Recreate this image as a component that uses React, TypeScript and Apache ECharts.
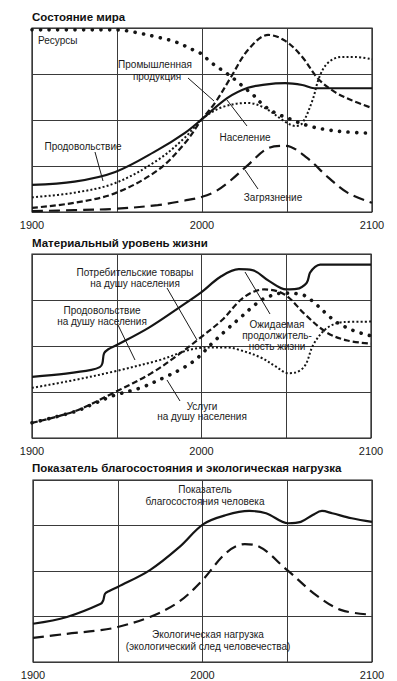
import React, { useEffect, useRef } from "react";
import * as echarts from "echarts";

// ---- Panel 1: Состояние мира ----
const resources = [[1900,3.96],[1950,3.96],[1960,3.91],[1975,3.79],[1985,3.69],[1995,3.52],[2000,3.43],[2005,3.26],[2010,3.13],[2015,3.0],[2020,2.86],[2025,2.7],[2030,2.55],[2035,2.36],[2040,2.22],[2045,2.12],[2050,2.05],[2055,1.97],[2065,1.85],[2075,1.78],[2085,1.74],[2100,1.71]];
const population = [[1900,0.59],[1925,0.66],[1949,0.87],[1974,1.35],[1990,1.72],[2000,2.02],[2015,2.48],[2027,2.7],[2037,2.77],[2049,2.8],[2059,2.76],[2066,2.69],[2080,2.69],[2100,2.69]];
const industry = [[1900,0.09],[1925,0.2],[1949,0.41],[1974,0.91],[1990,1.5],[2000,2.02],[2008,2.39],[2017,2.93],[2027,3.52],[2039,3.85],[2049,3.72],[2059,3.37],[2068,2.91],[2078,2.61],[2088,2.43],[2100,2.26]];
const food = [[1900,0.32],[1925,0.42],[1949,0.63],[1974,1.13],[1990,1.62],[2000,2.02],[2012,2.28],[2027,2.37],[2037,2.26],[2049,1.96],[2055,1.87],[2059,1.93],[2065,2.43],[2069,2.93],[2074,3.24],[2082,3.37],[2090,3.37],[2100,3.32]];
const pollution = [[1900,0.02],[1925,0.04],[1949,0.07],[1974,0.15],[1990,0.25],[2000,0.33],[2008,0.45],[2015,0.63],[2027,1.02],[2039,1.39],[2049,1.44],[2061,1.2],[2074,0.76],[2086,0.41],[2100,0.2]];

// ---- Panel 2: Материальный уровень жизни ----
const lifeExpectancy = [[1900,1.33],[1920,1.4],[1935,1.48],[1940,1.54],[1941.5,1.62],[1942.5,1.84],[1945,1.93],[1950,2.02],[1969,2.4],[1987,2.84],[2000,3.17],[2011,3.5],[2022,3.67],[2030,3.65],[2040,3.41],[2050,3.23],[2056,3.24],[2062,3.37],[2064,3.59],[2067,3.72],[2070,3.77],[2100,3.77]];
const consumerGoods = [[1900,0.33],[1925,0.58],[1948,0.98],[1970,1.4],[1986,1.8],[2000,2.2],[2012,2.56],[2025,3.06],[2037,3.23],[2049,3.12],[2061,2.69],[2074,2.29],[2086,2.12],[2100,2.05]];
const foodPerCapita = [[1900,1.09],[1925,1.26],[1950,1.46],[1974,1.68],[2000,1.96],[2015,1.97],[2022,1.92],[2035,1.75],[2044,1.55],[2051,1.41],[2055,1.42],[2061,1.57],[2066,2.03],[2074,2.39],[2084,2.52],[2100,2.53]];
const services = [[1900,0.33],[1925,0.57],[1935,0.72],[1948,0.92],[1964,1.09],[1980,1.35],[1988,1.5],[1995,1.66],[2000,1.82],[2006,2.05],[2015,2.36],[2023,2.62],[2032,2.91],[2038,3.05],[2048,3.15],[2059,3.12],[2065,2.99],[2074,2.69],[2080,2.51],[2090,2.33],[2100,2.22]];

// ---- Panel 3: Показатель благосостояния и экологическая нагрузка ----
const welfare = [[1900,0.84],[1920,0.99],[1940,1.28],[1941.5,1.36],[1942.5,1.5],[1945,1.56],[1950,1.65],[1969,2.02],[1986.5,2.53],[2000.5,3.03],[2014,3.23],[2027.5,3.32],[2037.5,3.27],[2050.5,3.05],[2058,3.08],[2065,3.23],[2070.5,3.32],[2076.5,3.27],[2088,3.16],[2100,3.08]];
const footprint = [[1900,0.53],[1920,0.62],[1940,0.7],[1950,0.77],[1969,0.99],[1986,1.32],[2000,1.8],[2014,2.4],[2025,2.59],[2031,2.57],[2050,2.02],[2067,1.47],[2082,1.14],[2100,1.04]];

const xTickLabels = ["1900", "2000", "2100"];
const panelTitles = ["Состояние мира", "Материальный уровень жизни", "Показатель благосостояния и экологическая нагрузка"];

const FONT = '"Liberation Sans", Arial, sans-serif';
const INK = "#151515";

const STYLES: Record<string, any> = {
  solid: { width: 2.2, type: "solid" },
  smallDots: { width: 2, type: [2, 2.2] },
  dash: { width: 2.2, type: [6, 3] },
  bigDots: { width: 3.6, type: [0.1, 8.5], cap: "round" },
  longDash: { width: 2.2, type: [11, 6] },
};

function mkSeries(name: string, data: number[][], idx: number, style: string) {
  return {
    name,
    type: "line",
    xAxisIndex: idx,
    yAxisIndex: idx,
    data,
    smooth: 0.35,
    symbol: "none",
    showSymbol: false,
    lineStyle: { color: INK, ...STYLES[style] },
    z: 3,
  };
}

function txt(text: string, x: number, y: number, opts: any = {}) {
  return {
    type: "text",
    x,
    y,
    z: 10,
    style: {
      text,
      fill: opts.fill || "#1a1a1a",
      font: opts.font || `10px ${FONT}`,
      textAlign: opts.align || "center",
      align: opts.align || "center",
      textVerticalAlign: "middle",
      verticalAlign: "middle",
    },
  };
}

function arrow(x1: number, y1: number, x2: number, y2: number) {
  return {
    type: "line",
    z: 10,
    shape: { x1, y1, x2, y2 },
    style: { stroke: "#1a1a1a", lineWidth: 1 },
  };
}

export default function App() {
  const ref = useRef<HTMLDivElement>(null);
  useEffect(() => {
    if (!ref.current) return;
    const chart = echarts.init(ref.current, null, { renderer: "svg" });
    const grids = [
      { left: 32, top: 28, width: 340, height: 184 },
      { left: 32, top: 254, width: 339, height: 184 },
      { left: 33, top: 480, width: 339, height: 182 },
    ].map((g) => ({ ...g, show: true, borderColor: "#222", borderWidth: 1.2, backgroundColor: "transparent" }));

    const xAxes = [0, 1, 2].map((i) => ({
      type: "value",
      gridIndex: i,
      min: 1900,
      max: 2100,
      interval: 50,
      axisLine: { show: false },
      axisTick: { show: false },
      axisLabel: {
        show: true,
        margin: 7,
        fontSize: 11,
        fontFamily: FONT,
        color: "#1a1a1a",
        showMinLabel: true,
        showMaxLabel: true,
        formatter: (v: number) => {
          const s = String(v);
          return xTickLabels.includes(s) ? s : "";
        },
      },
      splitLine: { show: true, lineStyle: { color: "#3a3a3a", width: 1 } },
    }));
    const yAxes = [0, 1, 2].map((i) => ({
      type: "value",
      gridIndex: i,
      min: 0,
      max: 4,
      interval: 1,
      axisLine: { show: false },
      axisTick: { show: false },
      axisLabel: { show: false },
      splitLine: { show: true, lineStyle: { color: "#3a3a3a", width: 1 } },
    }));

    const series = [
      mkSeries("Ресурсы", resources, 0, "bigDots"),
      mkSeries("Население", population, 0, "solid"),
      mkSeries("Промышленная продукция", industry, 0, "dash"),
      mkSeries("Продовольствие", food, 0, "smallDots"),
      mkSeries("Загрязнение", pollution, 0, "longDash"),
      mkSeries("Ожидаемая продолжительность жизни", lifeExpectancy, 1, "solid"),
      mkSeries("Потребительские товары на душу населения", consumerGoods, 1, "dash"),
      mkSeries("Продовольствие на душу населения", foodPerCapita, 1, "smallDots"),
      mkSeries("Услуги на душу населения", services, 1, "bigDots"),
      mkSeries("Показатель благосостояния человека", welfare, 2, "solid"),
      mkSeries("Экологическая нагрузка", footprint, 2, "longDash"),
    ];

    const titleFont = `bold 11.5px ${FONT}`;
    const graphic = [
      txt(panelTitles[0], 32, 17, { align: "left", font: titleFont, fill: "#111" }),
      txt(panelTitles[1], 32, 243, { align: "left", font: titleFont, fill: "#111" }),
      txt(panelTitles[2], 32, 468, { align: "left", font: titleFont, fill: "#111" }),
      // Panel 1 labels
      txt("Ресурсы", 38, 40, { align: "left" }),
      txt("Промышленная", 155, 64),
      txt("продукция", 157, 76),
      arrow(188, 78, 214, 101),
      txt("Продовольствие", 83, 146),
      arrow(95, 152, 103, 181),
      txt("Население", 245, 137),
      arrow(247, 126, 227, 100),
      txt("Загрязнение", 273, 197),
      arrow(258, 189, 245, 170),
      // Panel 2 labels
      txt("Потребительские товары", 135, 272),
      txt("на душу населения", 135, 283),
      arrow(167, 288, 197, 340),
      txt("Продовольствие", 102, 310),
      txt("на душу населения", 102, 321),
      arrow(118, 325, 135, 360),
      txt("Ожидаемая", 277, 324),
      txt("продолжитель-", 277, 335),
      txt("ность жизни", 277, 346),
      arrow(270, 314, 245, 272),
      txt("Услуги", 202, 406),
      txt("на душу населения", 202, 416),
      arrow(180, 401, 167, 380),
      // Panel 3 labels
      txt("Показатель", 205, 489),
      txt("благосостояния человека", 205, 501),
      txt("Экологическая нагрузка", 208, 634),
      txt("(экологический след человечества)", 208, 646),
    ];

    chart.setOption({
      animation: false,
      backgroundColor: "#ffffff",
      grid: grids,
      xAxis: xAxes,
      yAxis: yAxes,
      series,
      graphic,
    });
    return () => chart.dispose();
  }, []);

  return (
    <div
      ref={ref}
      style={{ position: "absolute", left: 0, top: 0, width: 397, height: 681, background: "#fff" }}
    />
  );
}
